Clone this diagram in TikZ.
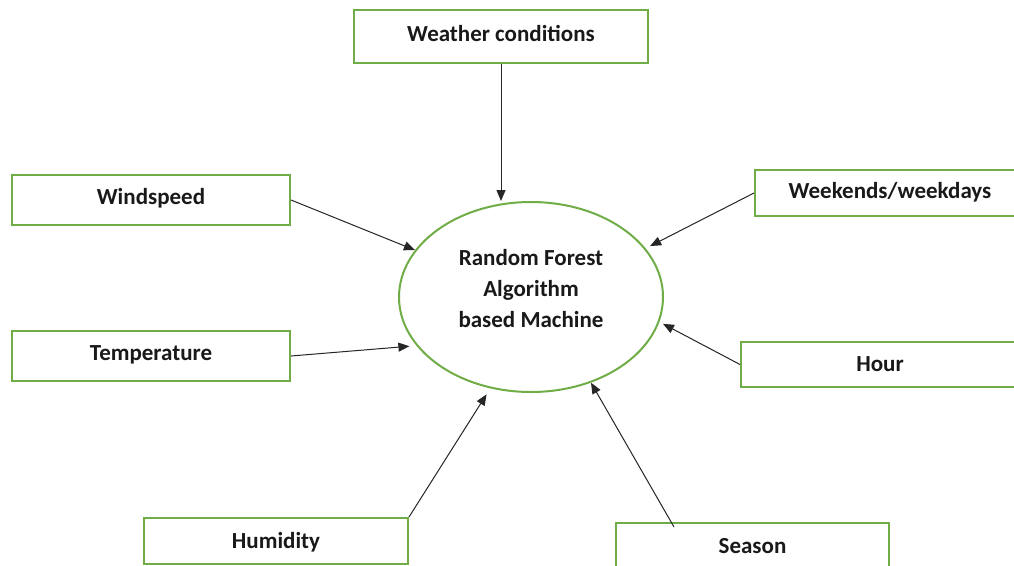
\documentclass[tikz,border=0pt]{standalone}
\usepackage{fontspec}
\setmainfont{Carlito}
\usetikzlibrary{arrows.meta,shapes.geometric,calc}
\definecolor{boxgreen}{RGB}{112,173,71}
\newcommand{\upby}[2]{\raisebox{#1}[\height][\depth]{#2}}
\begin{document}
\begin{tikzpicture}[x=1pt,y=-1pt,
  inbox/.style={draw=boxgreen,line width=2pt,fill=white,inner sep=0pt,
    font=\fontsize{23}{27}\selectfont\bfseries,text=black!90},
  feed/.style={draw=black!85,line width=1pt,-{Triangle[length=11pt,width=9pt]}}]
\useasboundingbox (0,0) rectangle (1014,565);
\clip (0,0) rectangle (1014,565);
\fill[white] (0,0) rectangle (1014,565);
\node[ellipse,draw=boxgreen,line width=2pt,minimum width=264pt,minimum height=190pt,inner sep=0pt] (rf) at (531,297) {};
\node[align=center,inner sep=0pt,font=\fontsize{23}{31}\selectfont\bfseries,text=black!90] (rft) at (531,289)
  {Random Forest\\Algorithm\\based Machine};
\node[inbox,minimum width=294pt,minimum height=53pt] (wc) at (501,36.5) {\upby{3pt}{Weather conditions}};
\node[inbox,minimum width=278pt,minimum height=50pt] (ws) at (151,200) {\upby{2pt}{Windspeed}};
\node[inbox,minimum width=278pt,minimum height=50pt] (tp) at (151,356) {\upby{1pt}{Temperature}};
\node[inbox,minimum width=264pt,minimum height=46pt] (hu) at (276,541) {\upby{-1pt}{Humidity}};
\node[inbox,minimum width=273pt,minimum height=46pt] (se) at (752.5,546) {Season};
\node[inbox,minimum width=270pt,minimum height=46pt] (wk) at (890,193) {\upby{1pt}{Weekends/weekdays}};
\node[inbox,minimum width=278pt,minimum height=45pt] (hr) at (880,364.5) {Hour};
\coordinate (seout) at ($(se.north west)+(59,5)$);
\draw[feed] (wc.south) -- (wc.south |- rf.north);
\draw[feed] (ws.east) -- (rf.158);
\draw[feed,shorten >=7pt] (tp.east) -- (rf.203);
\draw[feed,shorten >=7pt] (hu.north east) -- (rf.246);
\draw[feed] (seout) -- (rf.305);
\draw[feed,shorten >=4pt] (hr.west) -- (rf.349);
\draw[feed,shorten >=5pt] (wk.west) -- (rf.23);
\end{tikzpicture}
\end{document}
